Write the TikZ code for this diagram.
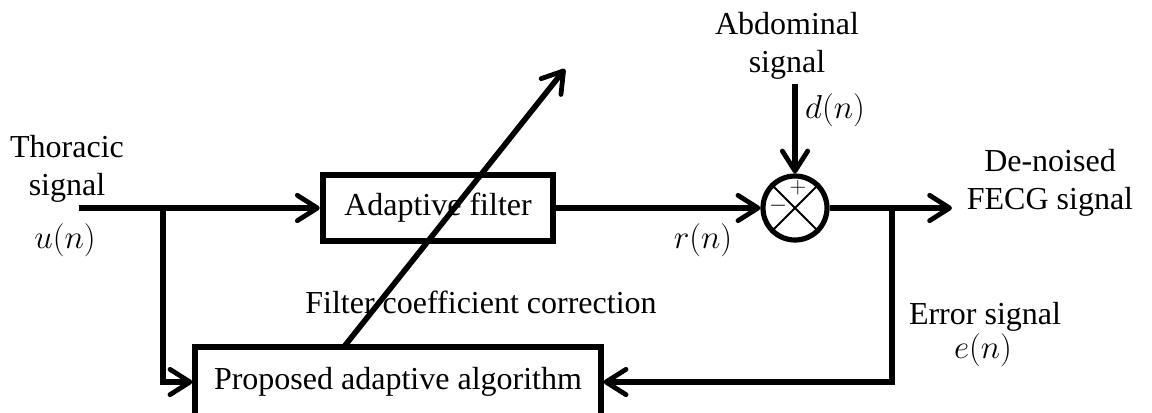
\documentclass[tikz,border=0pt]{standalone}
\usepackage{fontspec}
\setmainfont{Liberation Serif}
\usetikzlibrary{arrows.meta, positioning}
\tikzstyle{block} = [rectangle, draw, line width=4.4pt, fill=none,
    text centered, inner sep=0pt]
\tikzstyle{summer} = [circle, draw, line width=3.9pt, minimum size=48pt, inner sep=0pt]

\begin{document}
\begin{tikzpicture}[
x=0.75pt, y=-0.75pt,
font=\fontsize{24}{28.5}\selectfont,
line/.style = {line width=4.2pt},
arr/.style = {line, -{Straight Barb[length=15pt, width=19pt, line width=3.6pt, round]}},
lbl/.style = {align=center, inner sep=0pt},
sign/.style = {inner sep=0pt, font=\fontsize{19}{19}\selectfont},
                        ]
\useasboundingbox (0,0) rectangle (1152,412);
% blocks
\node [block, minimum width=173pt, minimum height=50pt] (filt) at (438,208) {Adaptive filter};
\node [block, minimum width=304pt, minimum height=52pt] (alg) at (398,382) {Proposed adaptive algorithm};
\node [summer] (sum) at (795,208) {};
\draw [line width=1.5pt] (sum.45) -- (sum.225);
\draw [line width=1.5pt] (sum.135) -- (sum.315);
\node [sign] (plus) at (798,188) {$+$};
\node [sign] (minus) at (778,206) {$-$};
% free ends
\coordinate (in) at (79,208);
\coordinate (split) at (163,208);
\coordinate (abd) at (795,84);
\coordinate (tap) at (892,208);
\coordinate (out) at (952,208);
\coordinate (base) at (343,348);
\coordinate (tip) at (565,69);
% connectors
\draw [line] (in) -- (split);
\draw [arr] (split) -- (filt);
\draw [arr] (split) |- (alg);
\draw [arr] (filt) -- (sum);
\draw [arr] (abd) -- (sum);
\draw [line] (sum) -- (tap);
\draw [arr] (tap) -- (out);
\draw [arr] (tap) |- (alg);
\draw [arr] (base) -- (tip);
% labels
\node [lbl] (thor) at (67,169) {Thoracic\\signal};
\node [lbl] (u) at (65,240) {$u(n)$};
\node [lbl] (abdlbl) at (787,46) {Abdominal\\signal};
\node [lbl] (d) at (835,110) {$d(n)$};
\node [lbl] (r) at (703,240) {$r(n)$};
\node [lbl] (denoised) at (1050,183) {De-noised\\FECG signal};
\node [lbl] (err) at (985,317) {Error signal};
\node [lbl] (e) at (983,350) {$e(n)$};
\node [lbl] (corr) at (481,302) {Filter coefficient correction};
\end{tikzpicture}
\end{document}
